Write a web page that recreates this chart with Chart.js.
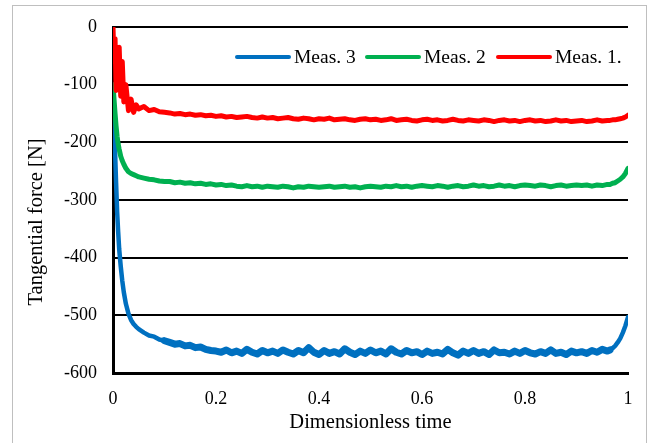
<!DOCTYPE html>
<html>
<head>
<meta charset="utf-8">
<script src="https://cdn.jsdelivr.net/npm/chart.js@4.4.0/dist/chart.umd.min.js"></script>
<style>
    html, body { margin: 0; padding: 0; background: #fff; }
    #wrap { width: 651px; height: 443px; }
</style>
</head>
<body>
<div id="wrap"><canvas id="force-chart" width="651" height="443"></canvas></div>
<script>
// 측정 시간 (무차원)
const time = [
    0, 0.002, 0.004, 0.006, 0.008, 0.01, 0.012, 0.015, 0.018, 0.021,
    0.025, 0.03, 0.035, 0.04, 0.045, 0.05, 0.06, 0.07, 0.08, 0.09, 0.1,
    0.11, 0.12, 0.13, 0.14, 0.15, 0.16, 0.17, 0.18, 0.19, 0.2,
    0.21, 0.22, 0.23, 0.24, 0.25, 0.26, 0.27, 0.28, 0.29, 0.3,
    0.31, 0.32, 0.33, 0.34, 0.35, 0.36, 0.37, 0.38, 0.39, 0.4,
    0.41, 0.42, 0.43, 0.44, 0.45, 0.46, 0.47, 0.48, 0.49, 0.5,
    0.51, 0.52, 0.53, 0.54, 0.55, 0.56, 0.57, 0.58, 0.59, 0.6,
    0.61, 0.62, 0.63, 0.64, 0.65, 0.66, 0.67, 0.68, 0.69, 0.7,
    0.71, 0.72, 0.73, 0.74, 0.75, 0.76, 0.77, 0.78, 0.79, 0.8,
    0.81, 0.82, 0.83, 0.84, 0.85, 0.86, 0.87, 0.88, 0.89, 0.9,
    0.91, 0.92, 0.93, 0.94, 0.95, 0.96,
    0.965, 0.97, 0.975, 0.98, 0.985, 0.99, 0.995, 1
];

// Meas. 1.
const meas1 = [
    0, -60, -20, -110, -40, -90, -35, -120, -60, -130,
    -100, -145, -125, -148, -135, -142, -138, -145, -143, -147, -148,
    -149, -151, -150, -152, -151, -153, -152, -154, -153, -155,
    -154, -156, -155, -157, -156, -155, -157, -158, -156, -158,
    -157, -159, -158, -157, -159, -160, -158, -159, -161, -159,
    -160, -158, -161, -160, -159, -161, -162, -160, -159, -161,
    -160, -162, -161, -159, -162, -161, -160, -162, -163, -161,
    -160, -162, -161, -163, -162, -160, -162, -163, -161, -162,
    -163, -161, -162, -164, -162, -161, -163, -162, -164, -162,
    -161, -163, -162, -164, -163, -161, -163, -162, -164, -163,
    -162, -164, -163, -161, -163, -162,
    -162, -161, -161, -160, -159, -158, -156, -153
];

// Meas. 2
const meas2 = [
    -100, -125, -150, -172, -190, -203, -212, -224, -232, -238,
    -245, -251, -254, -256, -258, -260, -262, -264, -265, -267, -268,
    -268, -270, -269, -271, -270, -272, -271, -273, -272, -274,
    -273, -275, -274, -276, -277, -275, -277, -276, -278, -276,
    -277, -278, -276, -277, -279, -277, -278, -276, -277, -278,
    -277, -276, -278, -277, -276, -278, -277, -279, -277, -276,
    -277, -278, -276, -277, -275, -277, -276, -278, -276, -275,
    -276, -277, -275, -276, -278, -276, -275, -277, -276, -274,
    -276, -275, -277, -276, -274, -276, -275, -277, -275, -274,
    -275, -276, -274, -275, -277, -275, -274, -276, -275, -274,
    -275, -274, -276, -274, -275, -273,
    -273, -271, -270, -267, -264, -260, -254, -245
];

// Meas. 3
const meas3 = [
    -100, -150, -215, -270, -320, -355, -385, -415, -440, -460,
    -480, -497, -508, -515, -520, -524, -530, -535, -537, -542, -544,
    -547, -550, -549, -553, -552, -556, -555, -559, -561, -562,
    -564, -560, -565, -562, -566, -559, -564, -567, -561, -565,
    -562, -566, -560, -564, -567, -561, -565, -556, -564, -568,
    -561, -566, -563, -567, -558, -564, -568, -562, -566, -560,
    -565, -562, -567, -558, -564, -567, -561, -565, -563, -568,
    -562, -566, -564, -567, -559, -565, -569, -562, -566, -561,
    -566, -563, -568, -560, -565, -564, -567, -562, -566, -561,
    -565, -567, -563, -566, -560, -566, -564, -568, -562, -565,
    -563, -566, -561, -564, -559, -562,
    -560, -557, -553, -547, -540, -530, -518, -503
];

const seriesNames = ['Meas. 3', 'Meas. 2', 'Meas. 1.'];
const seriesColors = ['#0070c0', '#00b050', '#ff0000'];
const xTicks = [0, 0.2, 0.4, 0.6, 0.8, 1];
const yTicks = [-600, -500, -400, -300, -200, -100, 0];

const serif = "'Liberation Serif', 'DejaVu Serif', serif";

function toPoints(values) {
    return time.map((t, i) => ({ x: t, y: values[i] }));
}

// 노이즈가 많은 구간은 선을 굵게
function bandWidth(thin, thick) {
    return (c) => (c.p0.parsed.x >= 0.1 && c.p1.parsed.x <= 0.965) ? thick : thin;
}

// 바깥 테두리
const frame = {
    id: 'frame',
    beforeDraw(chart) {
        const ctx = chart.ctx;
        ctx.save();
        ctx.strokeStyle = '#bfbfbf';
        ctx.lineWidth = 1;
        ctx.strokeRect(12.5, 5.5, 634, 450);
        ctx.restore();
    }
};

// 세로축 제목 (플롯 중심보다 약간 아래)
const yTitle = {
    id: 'yTitle',
    afterDraw(chart) {
        const ctx = chart.ctx;
        ctx.save();
        ctx.translate(37, 222);
        ctx.rotate(-Math.PI / 2);
        ctx.font = '20.5px ' + serif;
        ctx.fillStyle = '#000';
        ctx.textAlign = 'center';
        ctx.textBaseline = 'middle';
        ctx.fillText('Tangential force [N]', 0, 0);
        ctx.restore();
    }
};

// 플롯 안쪽 범례
const innerLegend = {
    id: 'innerLegend',
    afterDraw(chart) {
        const ctx = chart.ctx;
        const starts = [237, 367, 498];
        const y = 57;
        ctx.save();
        ctx.font = '19.5px ' + serif;
        ctx.textBaseline = 'middle';
        ctx.lineCap = 'round';
        chart.data.datasets.forEach((ds, i) => {
            const x0 = starts[i];
            ctx.strokeStyle = ds.borderColor;
            ctx.lineWidth = 4;
            ctx.beginPath();
            ctx.moveTo(x0, y);
            ctx.lineTo(x0 + 52, y);
            ctx.stroke();
            ctx.fillStyle = '#000';
            ctx.fillText(ds.label, x0 + 57, y + 1);
        });
        ctx.restore();
    }
};

new Chart(document.getElementById('force-chart'), {
    type: 'line',
    data: {
        datasets: [
            { label: seriesNames[0], data: toPoints(meas3), borderColor: seriesColors[0], borderWidth: 4.5,
              segment: { borderWidth: bandWidth(4.5, 7) }, order: 2 },
            { label: seriesNames[1], data: toPoints(meas2), borderColor: seriesColors[1], borderWidth: 5, order: 1 },
            { label: seriesNames[2], data: toPoints(meas1), borderColor: seriesColors[2], borderWidth: 5, order: 0 }
        ]
    },
    options: {
        responsive: false,
        animation: false,
        elements: {
            point: { radius: 0 },
            line: { tension: 0, borderJoinStyle: 'round', borderCapStyle: 'round' }
        },
        layout: { padding: { left: 14, right: 23, top: 27, bottom: 0 } },
        plugins: {
            legend: { display: false },
            tooltip: { enabled: false }
        },
        scales: {
            x: {
                type: 'linear',
                min: 0,
                max: 1,
                afterBuildTicks: (s) => { s.ticks = xTicks.map(v => ({ value: v })); },
                afterFit: (s) => { s.height = 70; },
                grid: { display: false },
                border: { color: '#000', width: 3 },
                ticks: {
                    color: '#000',
                    padding: 7,
                    font: { family: serif, size: 18 },
                    callback: (v) => String(v)
                },
                title: {
                    display: true,
                    text: 'Dimensionless time',
                    color: '#000',
                    padding: { top: 0, bottom: 8 },
                    font: { family: serif, size: 20.5 }
                }
            },
            y: {
                min: -600,
                max: 0,
                afterBuildTicks: (s) => { s.ticks = yTicks.map(v => ({ value: v })); },
                afterFit: (s) => { s.width = 99; },
                grid: { color: '#000', lineWidth: 2, drawTicks: false },
                border: { color: '#000', width: 3 },
                ticks: {
                    color: '#000',
                    padding: 16,
                    font: { family: serif, size: 18 },
                    callback: (v) => String(v)
                }
            }
        }
    },
    plugins: [frame, yTitle, innerLegend]
});
</script>
</body>
</html>
